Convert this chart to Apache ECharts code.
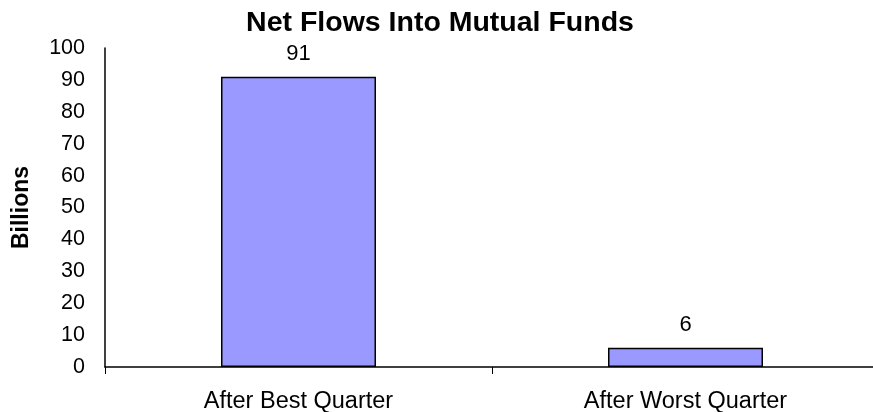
<!DOCTYPE html>
<html><head><meta charset="utf-8">
<script src="https://cdn.jsdelivr.net/npm/echarts@6/dist/echarts.min.js"></script>
<style>html,body{margin:0;padding:0;background:#fff}#c{width:873px;height:412px}</style>
</head><body><div id="c"></div>
<script>
const categories = ['After Best Quarter', 'After Worst Quarter'];
const netFlows = [91, 6];
const yTicks = [0, 10, 20, 30, 40, 50, 60, 70, 80, 90, 100];

const font = 'Arial, "Liberation Sans", sans-serif';
const chart = echarts.init(document.getElementById('c'));
chart.setOption({
  animation: false,
  backgroundColor: '#ffffff',
  title: {
    text: 'Net Flows Into Mutual Funds',
    left: 435, textAlign: 'center', top: 4,
    textStyle: {fontFamily: font, fontSize: 28.5, fontWeight: 'bold', color: '#000'}
  },
  grid: {left: 105, right: -6, top: 48, bottom: 45, outerBoundsMode: 'none', containLabel: false},
  xAxis: {
    type: 'category', data: categories,
    axisLine: {lineStyle: {color: '#000', width: 1.5}},
    axisTick: {show: true, length: 7, lineStyle: {color: '#000'}},
    axisLabel: {fontFamily: font, fontSize: 23.5, color: '#000', margin: 23}
  },
  yAxis: {
    type: 'value', min: yTicks[0], max: yTicks[yTicks.length - 1], interval: 10,
    name: 'Billions', nameLocation: 'middle', nameRotate: 90, nameGap: 72,
    nameTextStyle: {fontFamily: font, fontSize: 23, fontWeight: 'bold', color: '#000'},
    axisLine: {show: true, lineStyle: {color: '#000', width: 1.5}},
    axisTick: {show: false},
    splitLine: {show: false},
    axisLabel: {fontFamily: font, fontSize: 21.5, color: '#000', margin: 20}
  },
  series: [{
    type: 'bar', data: netFlows, barWidth: 155,
    itemStyle: {color: '#9999FF', borderColor: '#000', borderWidth: 1.5},
    label: {show: true, position: 'top', distance: 12, fontFamily: font, fontSize: 22, color: '#000'}
  }]
});
</script></body></html>
